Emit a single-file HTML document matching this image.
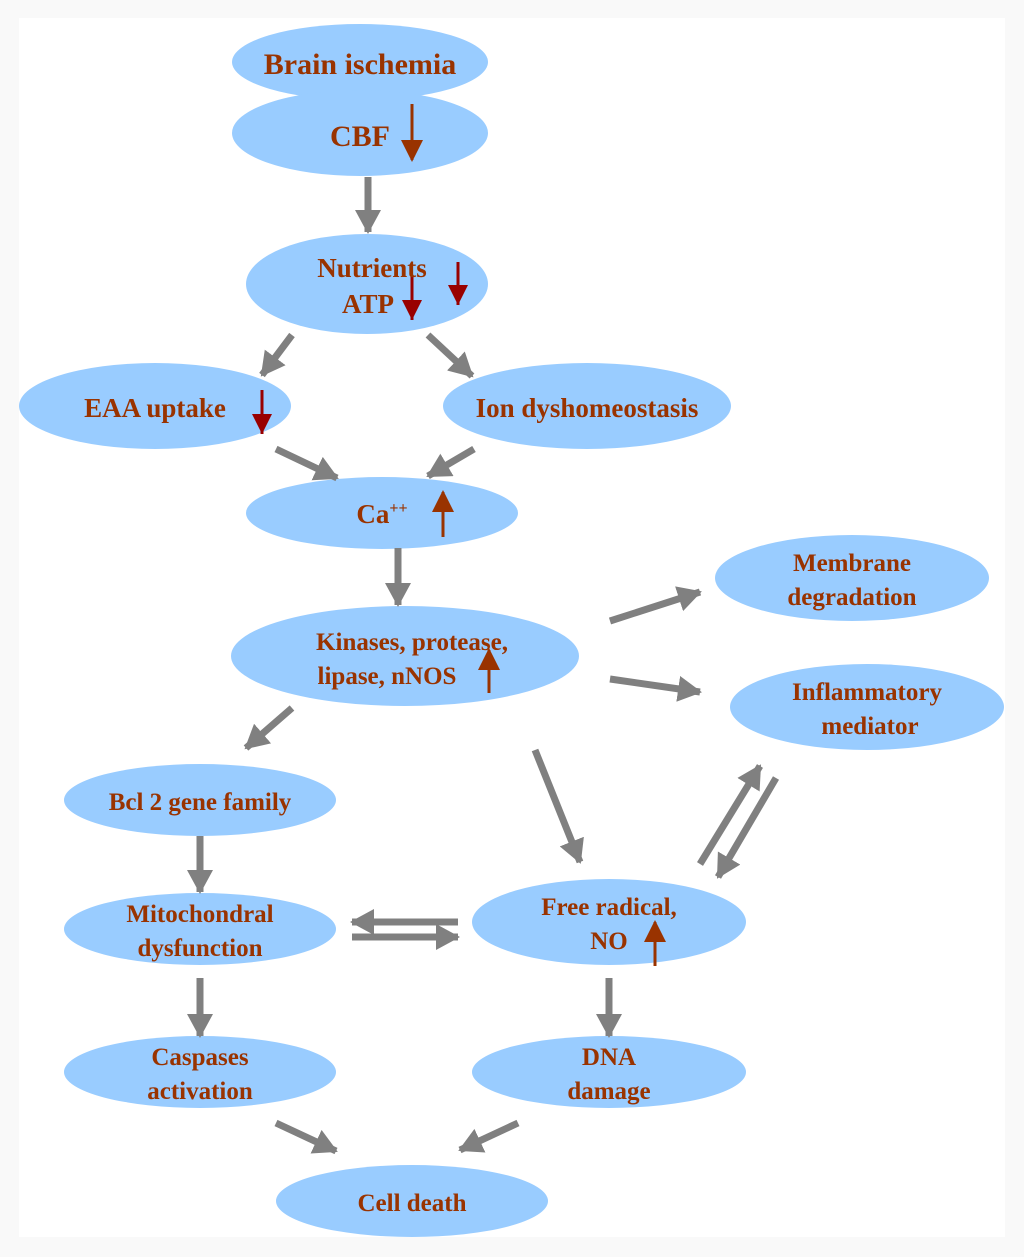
<!DOCTYPE html>
<html><head><meta charset="utf-8"><style>
html,body{margin:0;padding:0;background:#f9f9f9}
svg{display:block}
text{font-family:"Liberation Serif",serif;font-weight:bold;fill:#993300;text-anchor:middle}
</style></head><body>
<svg width="1024" height="1257" viewBox="0 0 1024 1257" xmlns="http://www.w3.org/2000/svg">
<defs>
<marker id="g" markerUnits="userSpaceOnUse" markerWidth="30" markerHeight="30" refX="22" refY="13" orient="auto"><path d="M0,0 L24,13 L0,26 Z" fill="#808080"/></marker>
<marker id="r" markerUnits="userSpaceOnUse" markerWidth="30" markerHeight="30" refX="20" refY="11" orient="auto"><path d="M0,0 L22,11 L0,22 Z" fill="#993300"/></marker>
<marker id="d" markerUnits="userSpaceOnUse" markerWidth="30" markerHeight="30" refX="20" refY="10" orient="auto"><path d="M0,0 L20,10 L0,20 Z" fill="#990000"/></marker>
</defs>
<rect x="19" y="18" width="986" height="1219" fill="#fff"/>
<g fill="#99ccff">
<ellipse cx="360" cy="62" rx="128" ry="38"/>
<ellipse cx="360" cy="133" rx="128" ry="43"/>
<ellipse cx="367" cy="284" rx="121" ry="50"/>
<ellipse cx="155" cy="406" rx="136" ry="43"/>
<ellipse cx="587" cy="406" rx="144" ry="43"/>
<ellipse cx="382" cy="513" rx="136" ry="36"/>
<ellipse cx="405" cy="656" rx="174" ry="50"/>
<ellipse cx="852" cy="578" rx="137" ry="43"/>
<ellipse cx="867" cy="707" rx="137" ry="43"/>
<ellipse cx="200" cy="800" rx="136" ry="36"/>
<ellipse cx="200" cy="929" rx="136" ry="36"/>
<ellipse cx="609" cy="922" rx="137" ry="43"/>
<ellipse cx="200" cy="1072" rx="136" ry="36"/>
<ellipse cx="609" cy="1072" rx="137" ry="36"/>
<ellipse cx="412" cy="1201" rx="136" ry="36"/>
</g>
<g stroke="#808080" stroke-width="7" marker-end="url(#g)">
<line x1="368" y1="177" x2="368" y2="232"/>
<line x1="292" y1="335" x2="262" y2="375"/>
<line x1="428" y1="335" x2="472" y2="376"/>
<line x1="276" y1="449" x2="337" y2="478"/>
<line x1="474" y1="449" x2="428" y2="476"/>
<line x1="398" y1="548" x2="398" y2="605"/>
<line x1="610" y1="621" x2="700" y2="592"/>
<line x1="610" y1="679" x2="700" y2="692"/>
<line x1="292" y1="708" x2="246" y2="748"/>
<line x1="535" y1="750" x2="580" y2="862"/>
<line x1="200" y1="836" x2="200" y2="892"/>
<line x1="700" y1="864" x2="760" y2="766"/>
<line x1="776" y1="778" x2="718" y2="877"/>
<line x1="458" y1="922" x2="352" y2="922"/>
<line x1="352" y1="937" x2="458" y2="937"/>
<line x1="200" y1="978" x2="200" y2="1036"/>
<line x1="609" y1="978" x2="609" y2="1036"/>
<line x1="276" y1="1123" x2="336" y2="1151"/>
<line x1="518" y1="1123" x2="460" y2="1150"/>
</g>
<g stroke-width="3">
<line x1="412" y1="104" x2="412" y2="160" stroke="#993300" marker-end="url(#r)"/>
<line x1="458" y1="262" x2="458" y2="305" stroke="#990000" marker-end="url(#d)"/>
<line x1="412" y1="276" x2="412" y2="320" stroke="#990000" marker-end="url(#d)"/>
<line x1="262" y1="390" x2="262" y2="434" stroke="#990000" marker-end="url(#d)"/>
<line x1="443" y1="537" x2="443" y2="492" stroke="#993300" marker-end="url(#r)"/>
<line x1="489" y1="693" x2="489" y2="650" stroke="#993300" marker-end="url(#r)"/>
<line x1="655" y1="966" x2="655" y2="922" stroke="#993300" marker-end="url(#r)"/>
</g>
<text x="360" y="74" font-size="30">Brain ischemia</text>
<text x="360" y="146" font-size="30">CBF</text>
<text x="372" y="277" font-size="27">Nutrients</text>
<text x="368" y="313" font-size="27">ATP</text>
<text x="155" y="417" font-size="27">EAA uptake</text>
<text x="587" y="417" font-size="27">Ion dyshomeostasis</text>
<text x="382" y="523" font-size="27">Ca<tspan font-size="16" dy="-10">++</tspan></text>
<text x="412" y="650" font-size="25">Kinases, protease,</text>
<text x="387" y="684" font-size="25">lipase, nNOS</text>
<text x="852" y="571" font-size="25">Membrane</text>
<text x="852" y="605" font-size="25">degradation</text>
<text x="867" y="700" font-size="25">Inflammatory</text>
<text x="870" y="734" font-size="25">mediator</text>
<text x="200" y="810" font-size="25">Bcl 2 gene family</text>
<text x="200" y="922" font-size="25">Mitochondral</text>
<text x="200" y="956" font-size="25">dysfunction</text>
<text x="609" y="915" font-size="25">Free radical,</text>
<text x="609" y="949" font-size="25">NO</text>
<text x="200" y="1065" font-size="25">Caspases</text>
<text x="200" y="1099" font-size="25">activation</text>
<text x="609" y="1065" font-size="25">DNA</text>
<text x="609" y="1099" font-size="25">damage</text>
<text x="412" y="1211" font-size="25">Cell death</text>
</svg>
</body></html>
